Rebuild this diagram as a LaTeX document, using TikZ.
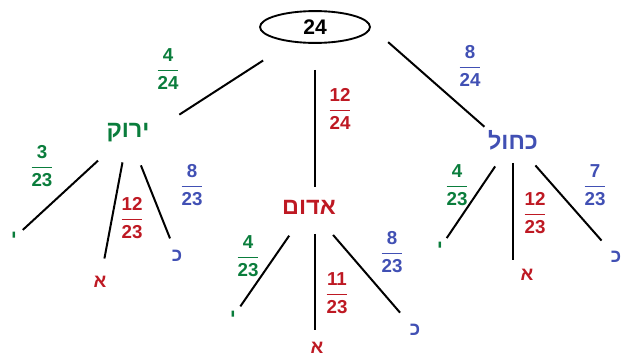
\documentclass[tikz,border=0pt]{standalone}
\usepackage{fontspec}
\usepackage{amsmath}
\usepackage{xcolor}
\setmainfont{Liberation Sans}
\newfontfamily\hebfont[Script=Hebrew]{Liberation Sans}
\TeXXeTstate=1
\usepackage{tikz}
\usetikzlibrary{shapes.geometric}

\definecolor{grnpen}{RGB}{10,125,60}
\definecolor{redpen}{RGB}{190,25,35}
\definecolor{blupen}{RGB}{65,80,180}
\newcommand{\heb}[1]{{\hebfont\beginR #1\endR}}
\newcommand{\frc}[2]{\(\dfrac{\textbf{#1}}{\textbf{#2}}\)}

\begin{document}
\begin{tikzpicture}[%
  x=0.03cm, y=-0.03cm,
  word/.style={font=\fontsize{20}{24}\selectfont\bfseries, inner sep=1pt},
  leaf/.style={font=\fontsize{16}{18}\selectfont\bfseries, inner sep=1pt},
  prob/.style={font=\fontsize{16}{19}\selectfont, inner sep=0pt},
  branch/.style 2 args={line width=1.7pt, shorten <=#1*0.85pt, shorten >=#2*0.85pt}]
  \useasboundingbox (0,0) rectangle (623,361);
  \node[ellipse, draw, line width=1.6pt, minimum width=3.3cm, minimum height=0.9cm,
    font=\fontsize{18}{20}\selectfont\bfseries] (root) at (315,27) {24};
  % first level
  \node[word, grnpen] (g) at (128,133) {\heb{ירוק}};
  \node[word, redpen] (r) at (309,207) {\heb{אדום}};
  \node[word, blupen] (b) at (513,140) {\heb{כחול}};
  \draw[branch={62}{34}] (root.center) -- (g.east);
  \draw[branch={26}{12}] (root.south) -- (root.south |- r.north);
  \draw[branch={23}{3}] (root.east) -- (b.north west);
  \node[prob, grnpen] (pg) at (168,69) {\frc{4}{24}};
  \node[prob, redpen] (pr) at (340,109) {\frc{12}{24}};
  \node[prob, blupen] (pb) at (470,66) {\frc{8}{24}};
  % under green
  \node[leaf, grnpen] (gy) at (14,238) {\heb{י}};
  \node[leaf, redpen] (ga) at (100,282) {\heb{א}};
  \node[leaf, blupen] (gk) at (177,256) {\heb{כ}};
  \draw[branch={41}{12}] (g.center) -- (gy.center);
  \draw[branch={30}{24}] (g.center) -- (ga.center);
  \draw[branch={35}{19}] (g.center) -- (gk.center);
  \node[prob, grnpen] at (42,166) {\frc{3}{23}};
  \node[prob, redpen] at (132,218) {\frc{12}{23}};
  \node[prob, blupen] at (192,185) {\frc{8}{23}};
  % under red
  \node[leaf, grnpen] (ry) at (233,317) {\heb{י}};
  \node[leaf, redpen] (ra) at (317,348) {\heb{א}};
  \node[leaf, blupen] (rk) at (415,330) {\heb{כ}};
  \draw[branch={35}{13}] (r.center) -- (ry.center);
  \draw[branch={27}{18}] (r.center -| root.south) -- (root.south |- ra.center);
  \draw[branch={37}{23}] (r.center) -- (rk.center);
  \node[prob, grnpen] at (248,256) {\frc{4}{23}};
  \node[prob, redpen] at (337,293) {\frc{11}{23}};
  \node[prob, blupen] at (392,252) {\frc{8}{23}};
  % under blue
  \node[leaf, grnpen] (by) at (440,248) {\heb{י}};
  \node[leaf, redpen] (ba) at (527,275) {\heb{א}};
  \node[leaf, blupen] (bk) at (616,257) {\heb{כ}};
  \draw[branch={32}{12}] (b.center) -- (by.center);
  \draw[branch={23}{15}] (b.center) -- (b.center |- ba.center);
  \draw[branch={34}{22}] (b.center) -- (bk.center);
  \node[prob, grnpen] at (457,185) {\frc{4}{23}};
  \node[prob, redpen] at (535,213) {\frc{12}{23}};
  \node[prob, blupen] at (595,185) {\frc{7}{23}};
\end{tikzpicture}
\end{document}
